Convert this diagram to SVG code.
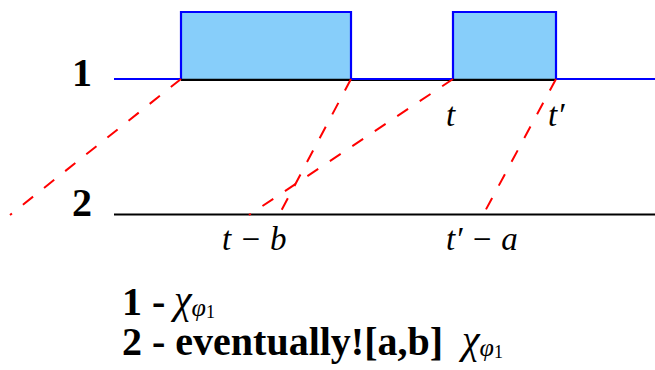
<svg xmlns="http://www.w3.org/2000/svg" width="655" height="370" viewBox="0 0 655 370">
<style>
.lbl{font-family:"Liberation Serif","DejaVu Serif",serif;font-weight:bold;font-size:40px;fill:#000}
.math{font-family:"Liberation Serif","DejaVu Serif",serif;font-style:italic;font-weight:normal;font-size:33px;fill:#000}
.chi{font-family:"Liberation Serif","DejaVu Serif",serif;font-style:italic;font-weight:normal;font-size:40px;fill:#000}
.phi{font-family:"Liberation Serif","DejaVu Serif",serif;font-style:italic;font-weight:normal;font-size:26px;fill:#000}
.one{font-family:"Liberation Serif","DejaVu Serif",serif;font-weight:normal;font-size:18px;fill:#000}
.sig{fill:none;stroke:#0000ff;stroke-width:2.2}
.dash{fill:none;stroke:#ff0000;stroke-width:2;stroke-dasharray:13,14}
</style>
<rect width="655" height="370" fill="#fff"/>
<g id="signal1">
  <rect x="181" y="12" width="170" height="67" fill="#87cefa"/>
  <rect x="453" y="12" width="103" height="67" fill="#87cefa"/>
  <line x1="181" y1="80.3" x2="556" y2="80.3" stroke="#000" stroke-width="1.6"/>
  <path class="sig" d="M114,79 H181 V12 H351 V79 H453 V12 H556 V79 H655"/>
  <path d="M181,79.5 H351 M453,79.5 H556" stroke="#000" stroke-width="1.5" fill="none"/>
</g>
<g id="signal2">
  <line x1="114" y1="214.5" x2="655" y2="214.5" stroke="#000" stroke-width="2.2"/>
</g>
<g id="connectors">
  <line class="dash" x1="181" y1="79" x2="10" y2="215"/>
  <line class="dash" x1="351" y1="79" x2="279" y2="215"/>
  <line class="dash" x1="453" y1="79" x2="249" y2="215"/>
  <line class="dash" x1="556" y1="79" x2="483" y2="215"/>
</g>
<g id="labels">
  <text class="lbl" x="72" y="86">1</text>
  <text class="lbl" x="72" y="216">2</text>
  <text class="math" x="446" y="126">t</text>
  <text class="math" x="548" y="126">t′</text>
  <text class="math" x="222" y="250">t − b</text>
  <text class="math" x="446" y="250">t′ − a</text>
</g>
<g id="legend">
  <text class="lbl" x="122" y="315">1 -</text>
  <text x="174" y="313"><tspan class="chi">χ</tspan><tspan class="phi" dy="3">φ</tspan><tspan class="one" dy="2">1</tspan></text>
  <text class="lbl" x="122" y="355">2 - eventually![a,b]</text>
  <text x="462" y="353"><tspan class="chi">χ</tspan><tspan class="phi" dy="3">φ</tspan><tspan class="one" dy="2">1</tspan></text>
</g>
</svg>
